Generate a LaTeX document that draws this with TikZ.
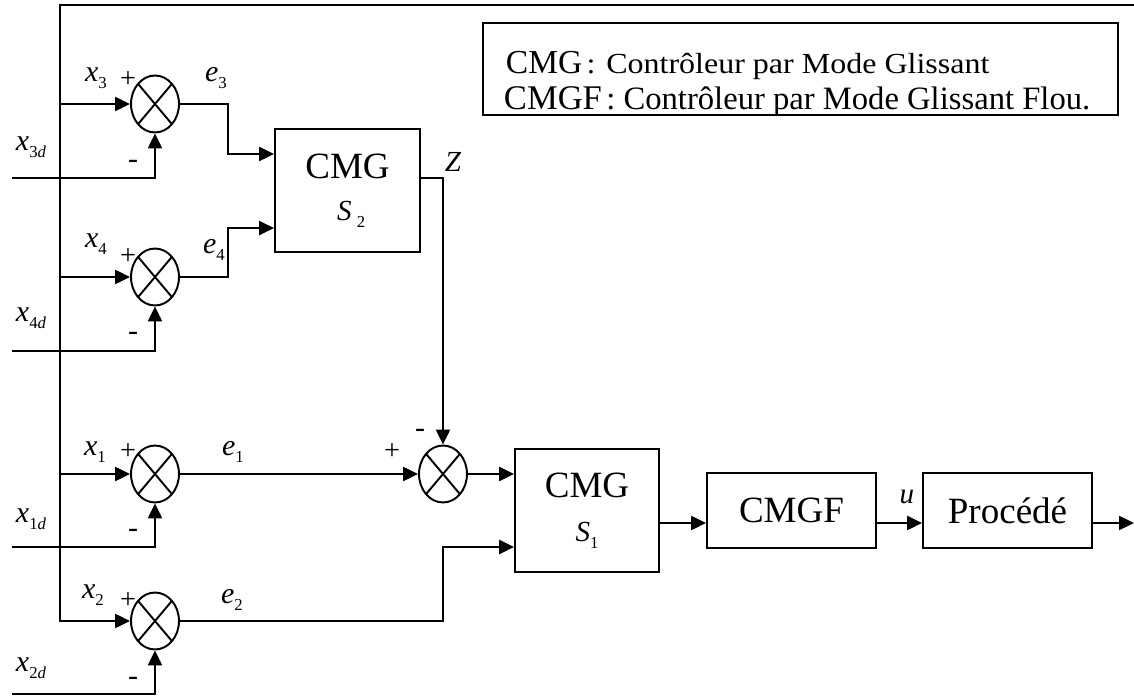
\documentclass[tikz,border=0pt]{standalone}
\usepackage{fontspec}
\setmainfont{Liberation Serif}
\usetikzlibrary{arrows.meta,calc,positioning,shapes.geometric}
\newcommand{\sig}[2]{\textit{#1}\raisebox{-4pt}{\fontsize{9.5}{11}\selectfont#2}}
\newcommand{\blksz}{\fontsize{21}{25}\selectfont}
\newcommand{\lblsz}{\fontsize{17}{20}\selectfont}
\newcommand{\midsz}{\fontsize{16.5}{19}\selectfont}

\begin{document}
\begin{tikzpicture}[
    x=0.567pt,y=-0.567pt,line width=1.1pt,
    arr/.style={-{Triangle[length=8.5pt,width=8pt]}},
    sum/.style={draw,ellipse,minimum width=27.2pt,minimum height=32.3pt,inner sep=0pt,
                path picture={\draw (path picture bounding box.north west) -- (path picture bounding box.south east)
                  (path picture bounding box.north east) -- (path picture bounding box.south west);}},
    blk/.style={draw,inner sep=0pt,align=center,font=\blksz},
    lbl/.style={inner sep=0pt,font=\lblsz},
    sgn/.style={inner sep=0pt,font=\fontsize{16}{18}\selectfont},
    neg/.style={inner sep=0pt,font=\fontsize{17}{20}\selectfont}
  ]
  \useasboundingbox (0,0) rectangle (1134,697);

  % comparateurs
  \node[sum] (s3) at (155,104) {};
  \node[sum] (s4) at (155,277) {};
  \node[sum] (s1) at (155,474) {};
  \node[sum] (s2) at (155,621) {};
  \node[sum] (sc) at (443,474) {};

  % blocs
  \node[blk,minimum width=82.2pt,minimum height=69.7pt] (S2) at (347.5,190.5)
    {CMG\\[-1pt]{\midsz\ \sig{S}{\hspace{3pt}2}}};
  \node[blk,minimum width=81.6pt,minimum height=69.7pt] (S1) at (587,510.5)
    {CMG\\[0pt]{\midsz\sig{S}{1}}};
  \node[blk,minimum width=95.8pt,minimum height=42pt] (cmgf) at (791.5,510.5) {CMGF};
  \node[blk,minimum width=95.8pt,minimum height=42pt] (proc) at (1007.5,510.5) {Procédé};

  \coordinate (bus) at (60,5);
  \coordinate (topend) at (1134,5);
  \coordinate (d3) at (12,178);
  \coordinate (d4) at (12,351);
  \coordinate (d1) at (12,547);
  \coordinate (d2) at (12,694);
  \coordinate (out) at (1134,523);

  % retours d'etat
  \draw[arr] (topend) -- (bus) |- (s2.west);
  \foreach \s in {s3,s4,s1}
    \draw[arr] (bus |- \s.west) -- (\s.west);
  \foreach \d/\s in {d3/s3,d4/s4,d1/s1,d2/s2}
    \draw[arr] (\d) -| (\s.south);

  % erreurs
  \draw[arr] (s3.east) -- ++(48,0) |- ([yshift=20.7pt]S2.west);
  \draw[arr] (s4.east) -- ++(48,0) |- ([yshift=-21.3pt]S2.west);
  \draw[arr] ([yshift=7.1pt]S2.east) -| (sc.north);
  \draw[arr] (s1.east) -- (sc.west);
  \draw[arr] (sc.east) -- (sc.east -| S1.west);
  \draw[arr] (s2.east) -- (s2.east -| sc) |- ([yshift=-20.7pt]S1.west);
  \draw[arr] (S1.east |- out) -- (cmgf.west |- out);
  \draw[arr] (cmgf.east |- out) -- (proc.west |- out);
  \draw[arr] (proc.east |- out) -- (out);

  % etiquettes
  \node[lbl] (lx3) at (96,78) {\sig{x}{3}};
  \node[sgn] (p3) at (128,80) {+};
  \node[lbl] (le3) at (216,78) {\sig{e}{3}};
  \node[lbl] (lx3d) at (31,147) {\sig{x}{3\textit{d}}};
  \node[neg] (m3) at (133,164) {-};

  \node[lbl] (lx4) at (96,244) {\sig{x}{4}};
  \node[sgn] (p4) at (128,257) {+};
  \node[lbl] (le4) at (214,250) {\sig{e}{4}};
  \node[lbl] (lx4d) at (31,318) {\sig{x}{4\textit{d}}};
  \node[neg] (m4) at (133,336) {-};

  \node[lbl] (lx1) at (95,452) {\sig{x}{1}};
  \node[sgn] (p1) at (128,452) {+};
  \node[lbl] (le1) at (233,452) {\sig{e}{1}};
  \node[lbl] (lx1d) at (31,519) {\sig{x}{1\textit{d}}};
  \node[neg] (m1) at (133,533) {-};

  \node[lbl] (lx2) at (93,595) {\sig{x}{2}};
  \node[sgn] (p2) at (128,601) {+};
  \node[lbl] (le2) at (232,600) {\sig{e}{2}};
  \node[lbl] (lx2d) at (31,668) {\sig{x}{2\textit{d}}};
  \node[neg] (m2) at (133,681) {-};

  \node[sgn] (pc) at (392,452) {+};
  \node[neg] (mc) at (420,433) {-};
  \node[inner sep=0pt,font=\midsz] (lz) at (453,162) {\textit{Z}};
  \node[inner sep=0pt,font=\midsz] (lu) at (907,497) {\textit{u}};

  % legende
  \node[draw,minimum width=360pt,minimum height=52.2pt,inner sep=0pt] (leg) at (800.5,69) {};
  \begin{scope}
    \clip (leg.south west) rectangle (leg.north east);
    \node[anchor=base west,inner sep=0pt] (leg1) at (505,74)
      {{\fontsize{19}{22}\selectfont CMG} \scalebox{1.1}[1]{\fontsize{16.5}{19}\selectfont : Contrôleur par Mode Glissant}};
    \node[anchor=base west,inner sep=0pt] (leg2) at (503,110)
      {{\fontsize{19.6}{22}\selectfont CMGF} {\fontsize{18.5}{21}\selectfont : Contrôleur par Mode Glissant Flou.}};
  \end{scope}
\end{tikzpicture}
\end{document}
